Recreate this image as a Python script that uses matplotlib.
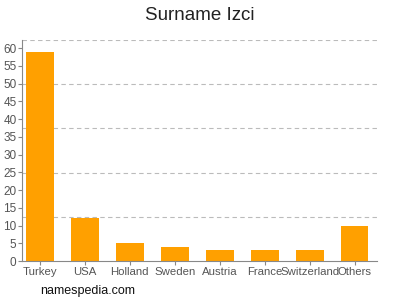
import matplotlib
matplotlib.use("Agg")
import matplotlib.pyplot as plt

plt.rcParams["font.family"] = ["Liberation Sans", "DejaVu Sans"]

categories = ["Turkey", "USA", "Holland", "Sweden", "Austria", "France", "Switzerland", "Others"]
values = [59, 12, 5, 4, 3, 3, 3, 10]
yticks = list(range(0, 61, 5))

fig = plt.figure(figsize=(4, 3), dpi=100)
ax = fig.add_axes([0.055, 0.13, 0.8875, 0.7367])
ymax = 62.3
ax.set_ylim(0, ymax)
ax.set_xlim(-0.4, 7.5)
for i in range(1, 6):
    ax.axhline(ymax * i / 5, color="#bbbbbb", linestyle=(0, (4, 3)), linewidth=0.8, zorder=0)
ax.bar(range(len(categories)), values, width=0.62, color="#FFA000", zorder=2)
ax.set_xticks(range(len(categories)))
ax.set_xticklabels(categories, fontsize=8.2, color="#555555")
ax.set_yticks(yticks)
ax.set_yticklabels([str(t) for t in yticks], fontsize=8.5, color="#555555")
ax.tick_params(axis="both", length=3, color="#888888", pad=1)
for s in ["top", "right"]:
    ax.spines[s].set_visible(False)
for s in ["left", "bottom"]:
    ax.spines[s].set_color("#888888")
    ax.spines[s].set_linewidth(0.8)
fig.text(0.5, 0.95, "Surname Izci", ha="center", va="center", fontsize=13.5, color="#222222")
fig.text(0.1, 0.03, "namespedia.com", ha="left", va="center", fontsize=9, color="#111111")
fig.savefig("out.png", dpi=100)
